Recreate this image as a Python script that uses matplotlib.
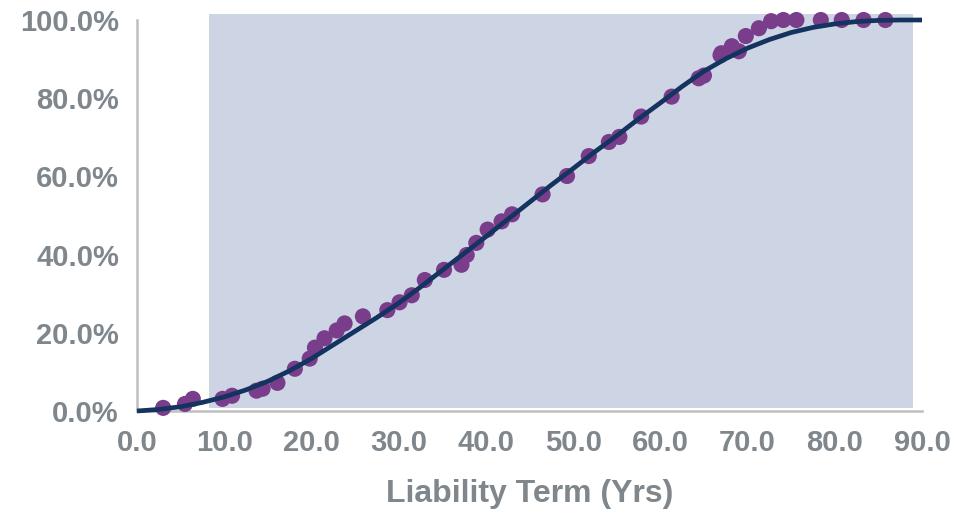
import matplotlib
matplotlib.use("Agg")
import matplotlib.pyplot as plt
from matplotlib.patches import Rectangle
from matplotlib.ticker import FuncFormatter

# Observed data points (term in years, cumulative %)
obs_x = [3.0, 5.5, 6.4, 9.8, 10.9, 13.7, 14.4, 16.1, 18.1, 19.8, 20.4, 21.5, 22.9,
         23.8, 25.9, 28.7, 30.1, 31.5, 33.0, 35.2, 37.2, 37.8, 38.9, 40.2, 41.8,
         43.0, 46.5, 49.3, 51.8, 54.1, 55.3, 57.8, 61.3, 64.4, 65.0, 66.9, 67.0,
         68.2, 69.0, 69.8, 71.3, 72.7, 74.1, 75.6, 78.4, 80.8, 83.3, 85.8]
obs_y = [0.8, 1.8, 3.1, 3.1, 3.9, 5.2, 5.7, 7.2, 10.8, 13.4, 16.2, 18.6, 20.6,
         22.4, 24.2, 25.8, 27.8, 29.6, 33.5, 36.1, 37.4, 39.9, 43.0, 46.4, 48.5,
         50.3, 55.4, 60.1, 65.2, 68.8, 70.1, 75.3, 80.4, 85.1, 85.8, 91.0, 91.5,
         93.3, 92.0, 95.9, 97.9, 99.7, 100.0, 100.0, 100.0, 100.0, 100.0, 100.0]

# Fitted curve
fit_x = [0, 2.5, 5, 7.5, 10, 12.5, 15, 17.5, 20, 22.5, 25, 27.5, 30, 32.5, 35, 37.5,
         40, 42.5, 45, 47.5, 50, 52.5, 55, 57.5, 60, 62.5, 65, 67.5, 70, 72.5, 75,
         77.5, 80, 82.5, 85, 87.5, 90]
fit_y = [0.0, 0.4, 1.1, 2.2, 3.6, 5.4, 7.6, 10.3, 13.4, 16.9, 20.4, 23.9, 27.6,
         31.7, 36.0, 40.3, 44.6, 49.0, 53.4, 57.8, 62.0, 66.3, 70.4, 74.7, 78.8,
         83.0, 86.9, 90.1, 92.8, 95.0, 96.8, 98.1, 99.0, 99.6, 99.9, 100.0, 100.0]

# Shaded band
band_x0, band_x1 = 8.3, 89.0

x_ticks = [0, 10, 20, 30, 40, 50, 60, 70, 80, 90]
y_ticks = [0, 20, 40, 60, 80, 100]

fig = plt.figure(figsize=(9.59, 5.15), dpi=100)
ax = fig.add_axes([137 / 959, (515 - 411) / 515, 785 / 959, (411 - 20) / 515])

ax.add_patch(Rectangle((band_x0, 0.8), band_x1 - band_x0, 100.7,
                       facecolor="#CDD5E4", edgecolor="none", zorder=0, clip_on=False))

ax.scatter(obs_x, obs_y, s=135, color="#7A3D8C", edgecolors="none", zorder=2, clip_on=False)
ax.plot(fit_x, fit_y, color="#14335E", linewidth=3.4, zorder=3, solid_capstyle="butt",
        clip_on=False)

ax.set_xlim(0, 90)
ax.set_ylim(0, 100)
ax.set_xticks(x_ticks)
ax.set_yticks(y_ticks)
ax.xaxis.set_major_formatter(FuncFormatter(lambda v, p: f"{v:.1f}"))
ax.yaxis.set_major_formatter(FuncFormatter(lambda v, p: f"{v:.1f}%"))

label_color = "#7F878D"
font = "Liberation Sans"
for lab in ax.get_xticklabels() + ax.get_yticklabels():
    lab.set_fontfamily(font)
    lab.set_fontweight("bold")
    lab.set_fontsize(21)
    lab.set_color(label_color)

ax.tick_params(axis="both", length=0)
ax.tick_params(axis="y", pad=13)
ax.tick_params(axis="x", pad=13)

for side in ["top", "right"]:
    ax.spines[side].set_visible(False)
for side in ["left", "bottom"]:
    ax.spines[side].set_color("#BFBFBF")
    ax.spines[side].set_linewidth(1.8)
    ax.spines[side].set_zorder(1)

ax.set_xlabel("Liability Term (Yrs)", fontfamily=font, fontweight="bold",
              fontsize=23, color=label_color, labelpad=16)
ax.set_facecolor("none")

fig.savefig("out.png", dpi=100, facecolor="white")
